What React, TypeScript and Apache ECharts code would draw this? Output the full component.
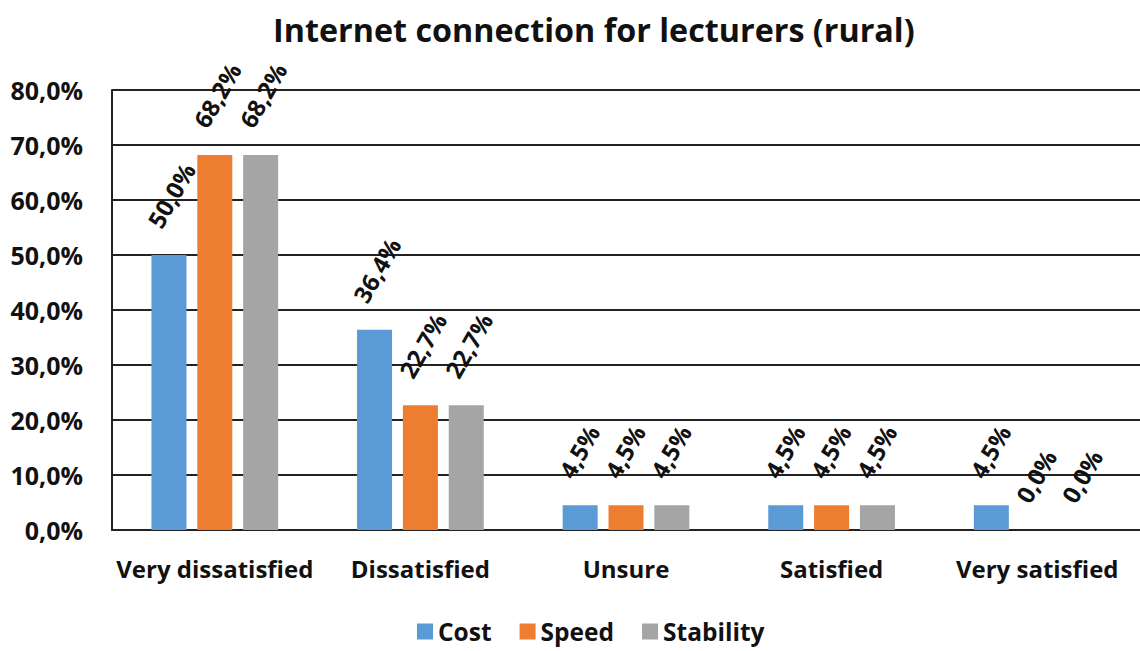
import React, { useEffect, useRef } from "react";
import * as echarts from "echarts";

const categories = ["Very dissatisfied", "Dissatisfied", "Unsure", "Satisfied", "Very satisfied"];
const costValues = [50.0, 36.4, 4.5, 4.5, 4.5];
const speedValues = [68.2, 22.7, 4.5, 4.5, 0.0];
const stabilityValues = [68.2, 22.7, 4.5, 4.5, 0.0];
const seriesNames = ["Cost", "Speed", "Stability"];
const colors = ["#5B9BD5", "#ED7D31", "#A5A5A5"];

const FONT = "'Open Sans', 'Noto Sans', sans-serif";
const fmt = (v: number) => v.toFixed(1).replace(".", ",") + "%";

export default function App() {
  const ref = useRef<HTMLDivElement>(null);
  useEffect(() => {
    if (!ref.current) return;
    const chart = echarts.init(ref.current, undefined, { renderer: "svg" });
    const mk = (name: string, data: number[], color: string) => ({
      name,
      type: "bar",
      data,
      barWidth: 35,
      barGap: "31%",
      itemStyle: { color },
      label: {
        show: true,
        position: "top",
        rotate: 60,
        align: "left",
        verticalAlign: "middle",
        distance: 0,
        offset: [18, -28],
        formatter: (p: any) => fmt(p.value),
        color: "#111",
        fontFamily: FONT,
        fontWeight: "bold",
        fontSize: 24,
      },
    });
    chart.setOption({
      animation: false,
      color: colors,
      title: {
        text: "Internet connection for lecturers (rural)",
        left: 268,
        top: 8,
        textStyle: { fontFamily: FONT, fontWeight: "bold", fontSize: 32.3, color: "#111" },
      },
      legend: {
        bottom: 2,
        left: 412,
        itemWidth: 16,
        itemHeight: 16,
        itemGap: 28,
        icon: "rect",
        textStyle: { fontFamily: FONT, fontWeight: "bold", fontSize: 24.5, color: "#111" },
        data: seriesNames,
      },
      grid: { left: 112, top: 90, width: 1033, height: 440, containLabel: false },
      xAxis: {
        type: "category",
        data: categories,
        axisLine: { lineStyle: { color: "#222", width: 2 } },
        axisTick: { show: false },
        axisLabel: { interval: 0, margin: 26, color: "#111", fontFamily: FONT, fontWeight: "bold", fontSize: 24 },
      },
      yAxis: {
        type: "value",
        min: 0,
        max: 80,
        interval: 10,
        axisLine: { show: true, lineStyle: { color: "#222", width: 2 } },
        axisTick: { show: false },
        splitLine: { lineStyle: { color: "#222", width: 2 } },
        axisLabel: { margin: 29, color: "#111", fontFamily: FONT, fontWeight: "bold", fontSize: 25, formatter: (v: number) => fmt(v) },
      },
      series: [
        mk(seriesNames[0], costValues, colors[0]),
        mk(seriesNames[1], speedValues, colors[1]),
        mk(seriesNames[2], stabilityValues, colors[2]),
      ],
    });
    return () => chart.dispose();
  }, []);
  return <div ref={ref} style={{ width: 1140, height: 651, position: "absolute", left: 0, top: 0 }} />;
}
